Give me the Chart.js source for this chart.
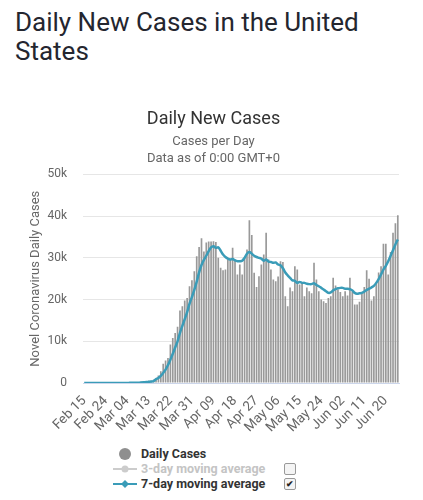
<!DOCTYPE html>
<html>
<head>
<meta charset="utf-8">
<script src="https://cdn.jsdelivr.net/npm/chart.js@4"></script>
<style>
  body { margin: 0; background: #fff; font-family: Roboto, "Noto Sans", sans-serif; }
  h1 { position: absolute; left: 15px; top: 8px; margin: 0; width: 400px;
       font-size: 26px; font-weight: 400; line-height: 29px; color: #24262f; }
  #wrap { position: absolute; left: 0; top: 98px; width: 423px; height: 345px; }
  #legend { position: absolute; left: 112px; top: 446px; font-size: 12.5px; font-weight: bold; }
  .row { height: 15px; line-height: 15px; position: relative; white-space: nowrap; }
  .row svg { position: absolute; left: 0; top: 1px; }
  .row span { position: absolute; left: 29px; top: 0; }
  .box { position: absolute; left: 172px; top: 2px; width: 10px; height: 10px;
         border: 1px solid #999; border-radius: 2px; background: #f4f4f4; font-size: 9px;
         line-height: 10px; text-align: center; color: #222; }
</style>
</head>
<body>
<h1>Daily New Cases in the United States</h1>
<div id="wrap"><canvas id="casesChart"></canvas></div>
<div id="legend">
  <div class="row"><svg width="26" height="14"><circle cx="13" cy="7" r="6" fill="#8f8f8f"/></svg><span style="color:#333">Daily Cases</span></div>
  <div class="row"><svg width="26" height="14"><line x1="1" y1="7" x2="25" y2="7" stroke="#cccccc" stroke-width="2"/><circle cx="13" cy="7" r="3.5" fill="#cccccc"/></svg><span style="color:#c4c4c4">3-day moving average</span><div class="box"></div></div>
  <div class="row"><svg width="26" height="14"><line x1="1" y1="7" x2="25" y2="7" stroke="#3a9cb8" stroke-width="2"/><path d="M13 3 L17 7 L13 11 L9 7 Z" fill="#3a9cb8"/></svg><span style="color:#333">7-day moving average</span><div class="box">&#10004;</div></div>
</div>
<script>
// first day shown and the daily values (Feb 15 .. Jun 25)
var startDate = '2020-02-15';

var dailyCases = [
    0, 0, 0, 0, 0, 0, 2, 0, 0, 0, 0, 0, 1, 0, 8,
    8, 23, 20, 31, 68, 45, 140, 116, 65, 376, 322, 382, 516, 548, 772, 1133,
    1800, 2800, 4600, 5400, 6000, 9200, 10800, 12000, 13500, 17400, 18400, 19800, 20400, 23200, 24600,
    26800, 30400, 32600, 34700, 31500, 33700, 33900, 33900, 34000, 33800, 30000, 27600, 27000, 27200, 29600,
    29600, 32400, 29600, 26000, 28400, 26000, 30000, 32000, 39000, 35500, 26400, 23000, 25600, 28400, 30800,
    36000, 29600, 27200, 24800, 24400, 25500, 29200, 29000, 20800, 18400, 22900, 22000, 28000, 27200, 23600,
    24000, 20800, 22900, 22000, 21500, 28800, 24800, 22000, 20000, 19600, 19200, 20400, 20800, 25200, 23400, 22400,
    21800, 20800, 22000, 21000, 25200, 22000, 18800, 18800, 19500, 21500, 23000, 27000, 25000, 19800,
    20800, 24000, 26500, 28000, 33400, 33400, 26000, 31400, 36000, 38300, 40200
];

var movingAvg7 = [
    0, 0, 0, 0, 0, 0, 0, 0, 0, 0, 0, 0, 0, 0, 0,
    10, 15, 20, 25, 35, 50, 60, 80, 90, 150, 190, 230, 290, 350, 470, 900,
    1200, 1700, 2400, 3200, 4300, 5600, 7000, 8500, 10000, 12000, 13700, 15300, 17000, 19000, 20600,
    22300, 24300, 26500, 28300, 29500, 30500, 31600, 32500, 32800, 32400, 32500, 31700, 30800, 30200, 29800,
    29600, 29700, 29400, 29200, 29200, 29300, 30000, 31000, 31400, 31000, 30500, 30200, 30000, 29800, 29300,
    29600, 29100, 29000, 28800, 28900, 28400, 28200, 27500, 26500, 25800, 25200, 24600, 24500, 24000, 24200,
    24000, 24000, 23800, 23700, 23700, 23900, 23500, 23200, 22800, 22400, 22000, 21600, 21700, 22200, 22500, 22700,
    22800, 22800, 22600, 22600, 22500, 22200, 21600, 21400, 21500, 21600, 21900, 22300, 22600, 22900,
    23300, 24000, 24900, 26000, 27200, 28100, 29200, 30500, 31800, 33200, 34400
];

var yTicks = [0, 10000, 20000, 30000, 40000, 50000];
var tickEvery = 9;

var monthNames = ['Jan', 'Feb', 'Mar', 'Apr', 'May', 'Jun', 'Jul', 'Aug', 'Sep', 'Oct', 'Nov', 'Dec'];

var dayLabels = [];
var d0 = new Date(startDate + 'T00:00:00Z');
for (let i = 0; i < dailyCases.length; i++) {
    var d = new Date(d0.getTime() + i * 86400000);
    var day = d.getUTCDate();
    dayLabels.push(monthNames[d.getUTCMonth()] + ' ' + (day < 10 ? '0' + day : day));
}

var ctx = document.getElementById('casesChart');

var chart = new Chart(ctx, {
    data: {
        labels: dayLabels,
        datasets: [
            {
                type: 'line',
                label: '7-day moving average',
                data: movingAvg7,
                borderColor: '#3a9cb8',
                borderWidth: 2.5,
                pointRadius: 0,
                tension: 0.3,
                fill: false,
                order: 0
            },
            {
                type: 'bar',
                label: 'Daily Cases',
                data: dailyCases,
                backgroundColor: '#999999',
                barPercentage: 0.7,
                categoryPercentage: 1,
                order: 1
            }
        ]
    },
    options: {
        responsive: true,
        maintainAspectRatio: false,
        animation: false,
        layout: {
            padding: { left: 28, right: 24, top: 11, bottom: 0 }
        },
        scales: {
            x: {
                offset: true,
                grid: { display: false },
                border: { color: '#ccd6eb' },
                afterFit: function (scale) { scale.height = 60; },
                ticks: {
                    autoSkip: false,
                    maxRotation: 45,
                    minRotation: 45,
                    color: '#666',
                    font: { family: 'Roboto', size: 13.5 },
                    padding: 2,
                    callback: function (val, idx) {
                        return idx % tickEvery === 0 ? dayLabels[idx] : null;
                    }
                }
            },
            y: {
                min: 0,
                max: 50000,
                afterFit: function (scale) { scale.width = 55; },
                afterBuildTicks: function (scale) {
                    scale.ticks = yTicks.map(v => ({ value: v }));
                },
                grid: { color: '#e6e6e6', drawTicks: false },
                border: { display: false },
                title: {
                    display: true,
                    text: 'Novel Coronavirus Daily Cases',
                    color: '#666',
                    font: { family: 'Roboto', size: 13 },
                    padding: 0
                },
                ticks: {
                    color: '#666',
                    padding: 16,
                    font: { family: 'Roboto', size: 12 },
                    callback: function (v) { return v === 0 ? '0' : (v / 1000) + 'k'; }
                }
            }
        },
        plugins: {
            legend: { display: false },
            tooltip: { enabled: false },
            title: {
                display: true,
                text: 'Daily New Cases',
                color: '#333',
                font: { family: 'Roboto', size: 18, weight: 'normal' },
                padding: { top: 0, bottom: 3 }
            },
            subtitle: {
                display: true,
                text: ['Cases per Day', 'Data as of 0:00 GMT+0'],
                color: '#666',
                font: { family: 'Roboto', size: 13, lineHeight: 1.3 },
                padding: { top: 0, bottom: 7 }
            }
        }
    }
});
</script>
</body>
</html>
